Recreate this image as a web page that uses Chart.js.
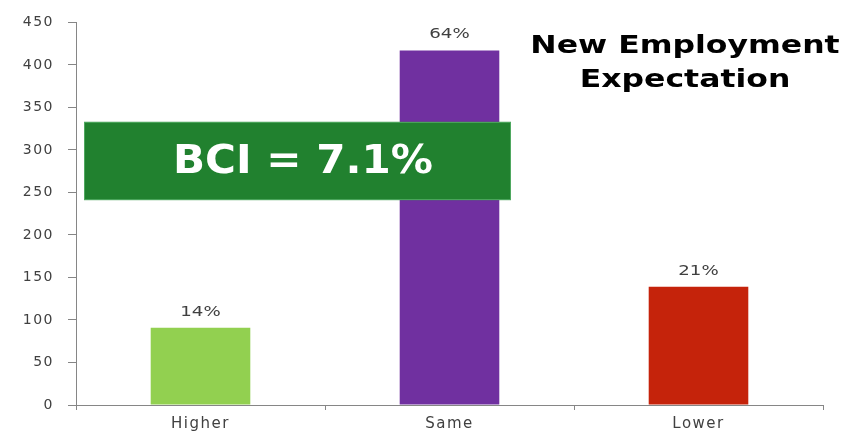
<!DOCTYPE html>
<html>
<head>
<meta charset="utf-8">
<script src="https://cdn.jsdelivr.net/npm/chart.js@4.4.1/dist/chart.umd.min.js"></script>
<style>
  html, body { margin: 0; padding: 0; background: #fff; }
  #wrap { position: relative; width: 845px; height: 434px; }
</style>
</head>
<body>
<div id="wrap"><canvas id="bci" width="845" height="434"></canvas></div>
<script>
// data
const categories = ['Higher', 'Same', 'Lower'];
const counts = [91, 417, 139];
const shares = ['14%', '64%', '21%'];
const barColors = ['#92D050', '#7030A0', '#C5230B'];
const titleLines = ['New Employment', 'Expectation'];
const bciText = 'BCI = 7.1%';

// the original picture is stretched sideways, so tick text gets a little spacing
const wideText = {
  id: 'wideText',
  beforeLayout(chart) { chart.ctx.letterSpacing = '1.5px'; },
  beforeDraw(chart) { chart.ctx.letterSpacing = '1.5px'; }
};

// helper: draw text stretched wider
function wideFill(ctx, text, x, y, sx) {
  ctx.save();
  ctx.letterSpacing = '0px';
  ctx.translate(x, y);
  ctx.scale(sx, 1);
  ctx.fillText(text, 0, 0);
  ctx.restore();
}

// percent labels above the bars
const shareLabels = {
  id: 'shareLabels',
  afterDatasetsDraw(chart) {
    const ctx = chart.ctx;
    const meta = chart.getDatasetMeta(0);
    ctx.save();
    ctx.font = '14px "DejaVu Sans"';
    ctx.fillStyle = '#404040';
    ctx.textAlign = 'center';
    ctx.textBaseline = 'alphabetic';
    meta.data.forEach((bar, i) => {
      wideFill(ctx, shares[i], bar.x, bar.y - 12, 1.3);
    });
    ctx.restore();
  }
};

// title and the green BCI banner
const overlay = {
  id: 'overlay',
  afterDraw(chart) {
    const ctx = chart.ctx;
    const y = chart.scales.y;
    const area = chart.chartArea;
    ctx.save();
    const top = y.getPixelForValue(333);
    const bot = y.getPixelForValue(241);
    const left = area.left + 8;
    const right = area.left + 435;
    ctx.fillStyle = '#21812F';
    ctx.fillRect(left, top, right - left, bot - top);
    ctx.strokeStyle = '#4FA860';
    ctx.lineWidth = 1;
    ctx.strokeRect(left + 0.5, top + 0.5, right - left - 1, bot - top - 1);
    ctx.fillStyle = '#ffffff';
    ctx.font = 'bold 39px "DejaVu Sans"';
    ctx.textAlign = 'center';
    ctx.textBaseline = 'alphabetic';
    wideFill(ctx, bciText, 303, 173, 1.08);
    ctx.fillStyle = '#000000';
    ctx.font = 'bold 25px "DejaVu Sans"';
    wideFill(ctx, titleLines[0], 685, 53, 1.26);
    wideFill(ctx, titleLines[1], 685, 87, 1.26);
    ctx.restore();
  }
};

new Chart(document.getElementById('bci'), {
  type: 'bar',
  data: {
    labels: categories,
    datasets: [{
      data: counts,
      backgroundColor: barColors,
      borderWidth: 0,
      barPercentage: 0.4,
      categoryPercentage: 1.0
    }]
  },
  options: {
    responsive: false,
    animation: false,
    layout: { padding: { top: 16, right: 22, left: 0, bottom: 0 } },
    plugins: {
      legend: { display: false },
      tooltip: { enabled: false },
      title: { display: false }
    },
    scales: {
      x: {
        grid: { display: true, offset: true, drawOnChartArea: false, drawTicks: true, tickLength: 5, color: '#868686' },
        border: { display: true, color: '#868686', width: 1 },
        ticks: { color: '#404040', font: { family: 'DejaVu Sans', size: 15 }, padding: 5 },
        afterFit(scale) { scale.height = 29; }
      },
      y: {
        min: 0,
        max: 450,
        grid: { display: true, drawOnChartArea: false, drawTicks: true, tickLength: 8, color: '#868686' },
        border: { display: true, color: '#868686', width: 1 },
        ticks: { stepSize: 50, color: '#404040', font: { family: 'DejaVu Sans', size: 14 }, padding: 14 },
        afterFit(scale) { scale.width = 76; }
      }
    }
  },
  plugins: [wideText, shareLabels, overlay]
});
</script>
</body>
</html>
